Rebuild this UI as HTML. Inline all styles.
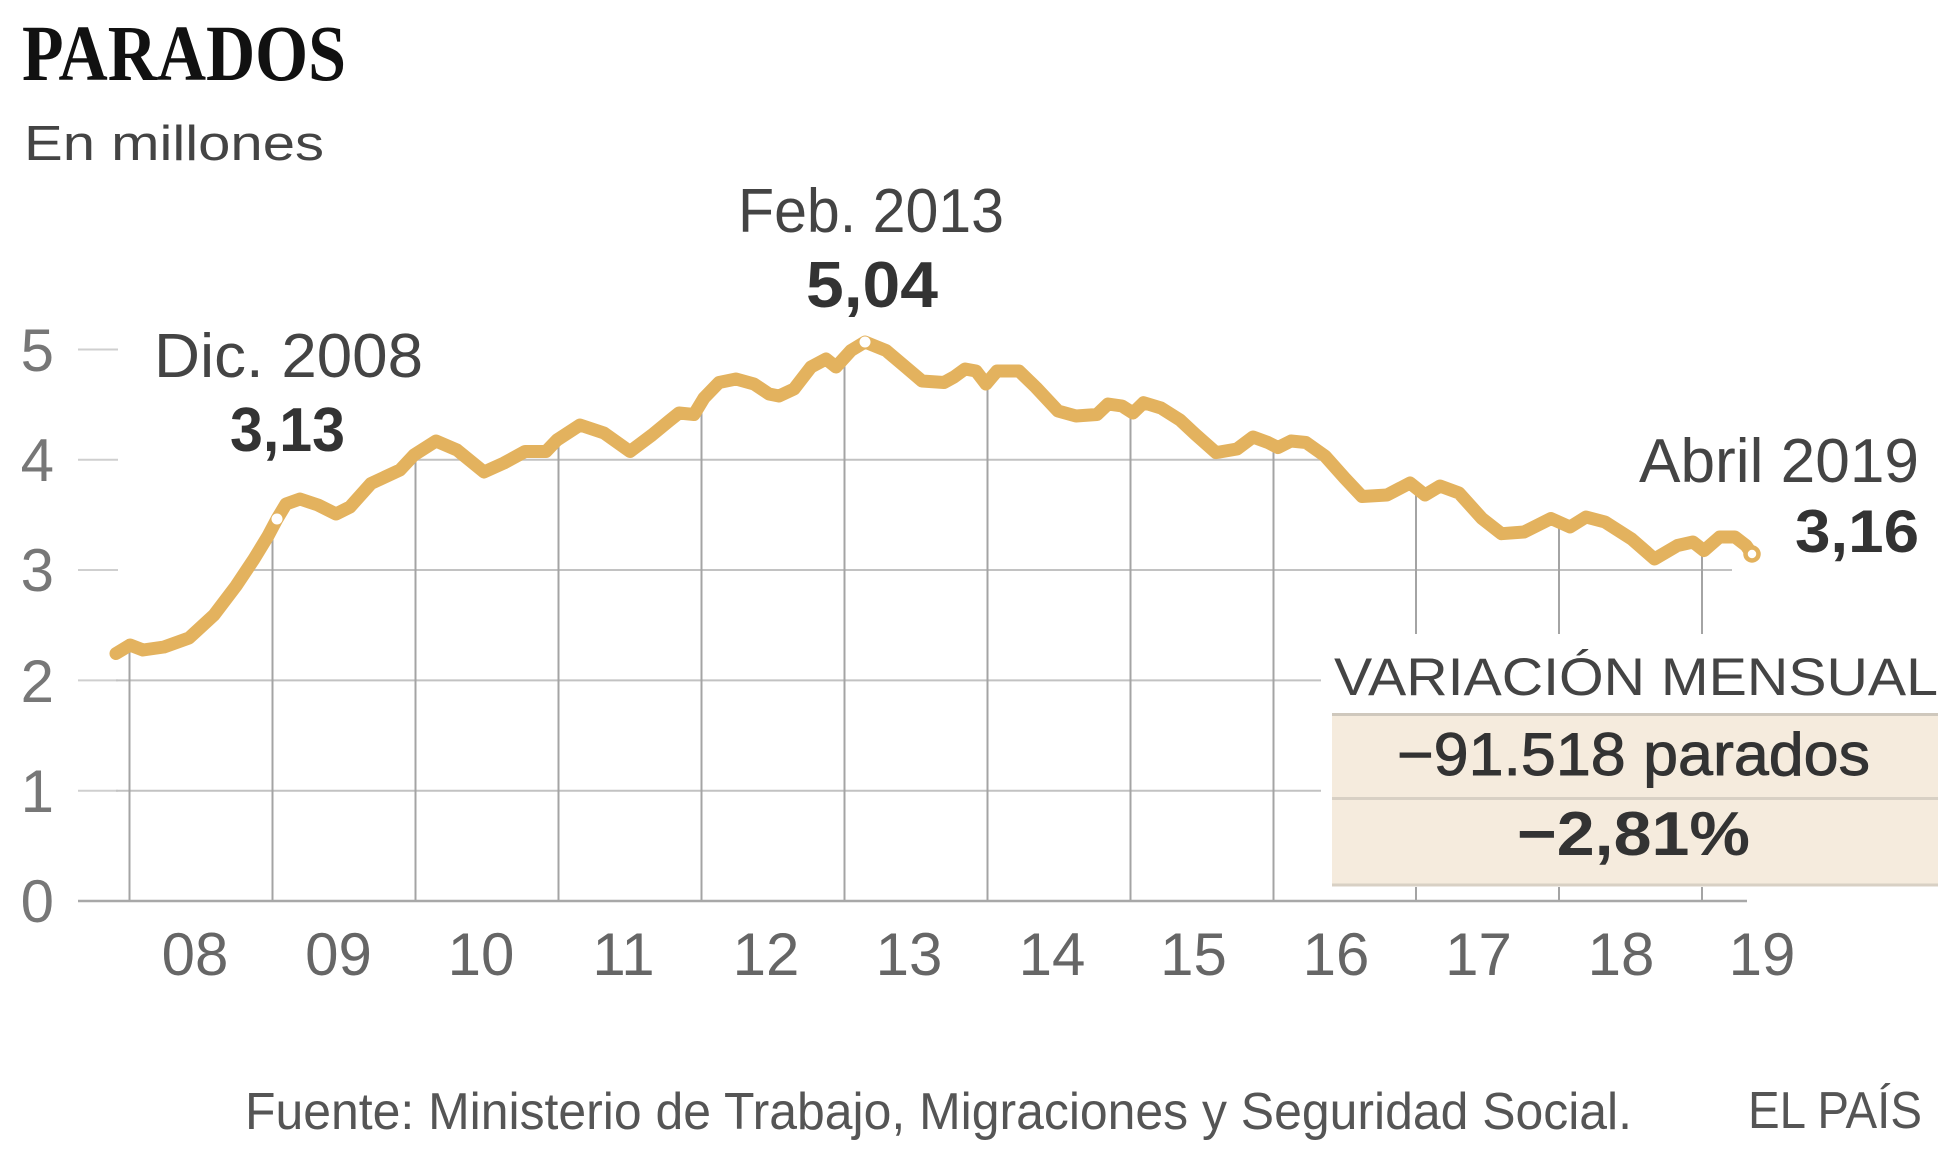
<!DOCTYPE html>
<html>
<head>
<meta charset="utf-8">
<style>
  html,body{margin:0;padding:0;background:#fff;}
  svg{display:block;}
  text{font-family:"Liberation Sans",sans-serif;}
</style>
</head>
<body>
<svg width="1960" height="1152" viewBox="0 0 1960 1152" xmlns="http://www.w3.org/2000/svg">
  <defs>
    <clipPath id="area">
      <polygon points="116,653.5 130,645 143,650 164,647 189,638 214,615 236,586 254,559 268,536 277,519 286,504 300,499 318,505 336,514 350,507 371,483.5 400,470 414,455 436,441 457,450 484,472 504,463 525,451.5 546,451.5 557,440 580,425 604,433 630,451.5 652,435 669,421 679,413 694,414.5 704,398 719,382.5 736,379 754,384 769,394 779,396 794,389 811,367 826,359 836,367 851,350.5 865,342 886,350.5 904,365.7 922,381 944,382.5 954,377 965,369 976,371 986,384 997,371 1019,371 1036,387.5 1058,411 1076,416 1097,414.5 1108,404 1122,406 1133,413 1143.6,402.7 1161,408 1180,420 1195,434 1216,452.6 1237,449 1253,437 1268,442.5 1278,447.6 1291,441 1306,442.5 1325,456 1344.6,478 1362,496.5 1387,495 1410,483 1425,495 1440,486 1459,493 1482,518.5 1501.5,533.7 1524,532 1551,518.5 1570,527 1586,517 1605,522 1631.6,539 1654.5,559 1677.5,545.5 1693,542 1704,550.6 1719.6,537 1732,537 1732,905 116,905"/>
    </clipPath>
  </defs>

  <!-- Title -->
  <text x="22" y="80" font-weight="bold" font-size="79" fill="#111" textLength="324" lengthAdjust="spacingAndGlyphs" style="font-family:'Liberation Serif',serif">PARADOS</text>
  <text x="24" y="160" font-size="49" fill="#444" textLength="300" lengthAdjust="spacingAndGlyphs">En millones</text>

  <!-- Y-axis labels -->
  <g font-size="60" fill="#777" text-anchor="end">
    <text x="54" y="371">5</text>
    <text x="54" y="481">4</text>
    <text x="54" y="591">3</text>
    <text x="54" y="702">2</text>
    <text x="54" y="812">1</text>
    <text x="54" y="922">0</text>
  </g>

  <!-- short ticks near labels -->
  <g stroke="#cfcfcf" stroke-width="2">
    <line x1="78" y1="349.5" x2="118" y2="349.5"/>
    <line x1="78" y1="459.8" x2="118" y2="459.8"/>
    <line x1="78" y1="570" x2="118" y2="570"/>
    <line x1="78" y1="680.4" x2="118" y2="680.4"/>
    <line x1="78" y1="790.7" x2="118" y2="790.7"/>
  </g>

  <!-- gridlines & year lines clipped under curve -->
  <g clip-path="url(#area)">
    <g stroke="#c2c2c2" stroke-width="2">
      <line x1="78" y1="459.8" x2="1960" y2="459.8"/>
      <line x1="78" y1="570" x2="1960" y2="570"/>
      <line x1="78" y1="680.4" x2="1960" y2="680.4"/>
      <line x1="78" y1="790.7" x2="1960" y2="790.7"/>
    </g>
    <g stroke="#a4a4a4" stroke-width="2">
      <line x1="129.5" y1="300" x2="129.5" y2="901"/>
      <line x1="272.5" y1="300" x2="272.5" y2="901"/>
      <line x1="415.5" y1="300" x2="415.5" y2="901"/>
      <line x1="558.5" y1="300" x2="558.5" y2="901"/>
      <line x1="701.5" y1="300" x2="701.5" y2="901"/>
      <line x1="844.5" y1="300" x2="844.5" y2="901"/>
      <line x1="987.5" y1="300" x2="987.5" y2="901"/>
      <line x1="1130.5" y1="300" x2="1130.5" y2="901"/>
      <line x1="1273.5" y1="300" x2="1273.5" y2="901"/>
      <line x1="1416" y1="300" x2="1416" y2="901"/>
      <line x1="1559" y1="300" x2="1559" y2="901"/>
      <line x1="1702" y1="300" x2="1702" y2="901"/>
    </g>
  </g>

  <!-- baseline -->
  <line x1="78" y1="901" x2="1747" y2="901" stroke="#a8a8a8" stroke-width="2.5"/>

  <!-- X labels -->
  <g font-size="60" fill="#666" text-anchor="middle">
    <text x="195" y="975">08</text>
    <text x="338.5" y="975">09</text>
    <text x="481" y="975">10</text>
    <text x="623.5" y="975">11</text>
    <text x="766" y="975">12</text>
    <text x="909" y="975">13</text>
    <text x="1052" y="975">14</text>
    <text x="1193.5" y="975">15</text>
    <text x="1336" y="975">16</text>
    <text x="1478.5" y="975">17</text>
    <text x="1621" y="975">18</text>
    <text x="1762" y="975">19</text>
  </g>

  <!-- annotation background (white) -->
  <rect x="1321" y="634" width="639" height="253" fill="#fff"/>
  <!-- box -->
  <rect x="1332" y="714" width="606" height="172" fill="#F5EBDD"/>
  <line x1="1332" y1="714.5" x2="1938" y2="714.5" stroke="#cfc8bd" stroke-width="3"/>
  <line x1="1332" y1="798.5" x2="1938" y2="798.5" stroke="#d8d0c4" stroke-width="3"/>
  <line x1="1332" y1="885" x2="1938" y2="885" stroke="#d8d0c4" stroke-width="3"/>

  <text x="1334" y="695" font-size="53" fill="#444" textLength="604" lengthAdjust="spacingAndGlyphs">VARIACIÓN MENSUAL</text>
  <text x="1397" y="775" font-size="60" fill="#333" stroke="#333" stroke-width="0.9" textLength="473" lengthAdjust="spacingAndGlyphs">−91.518 parados</text>
  <text x="1517" y="855" font-size="62" font-weight="bold" fill="#333" textLength="233" lengthAdjust="spacingAndGlyphs">−2,81%</text>

  <!-- data line -->
  <polyline fill="none" stroke="#E3B25E" stroke-width="13" stroke-linejoin="round" stroke-linecap="round"
    points="116,653.5 130,645 143,650 164,647 189,638 214,615 236,586 254,559 268,536 277,519 286,504 300,499 318,505 336,514 350,507 371,483.5 400,470 414,455 436,441 457,450 484,472 504,463 525,451.5 546,451.5 557,440 580,425 604,433 630,451.5 652,435 669,421 679,413 694,414.5 704,398 719,382.5 736,379 754,384 769,394 779,396 794,389 811,367 826,359 836,367 851,350.5 865,342 886,350.5 904,365.7 922,381 944,382.5 954,377 965,369 976,371 986,384 997,371 1019,371 1036,387.5 1058,411 1076,416 1097,414.5 1108,404 1122,406 1133,413 1143.6,402.7 1161,408 1180,420 1195,434 1216,452.6 1237,449 1253,437 1268,442.5 1278,447.6 1291,441 1306,442.5 1325,456 1344.6,478 1362,496.5 1387,495 1410,483 1425,495 1440,486 1459,493 1482,518.5 1501.5,533.7 1524,532 1551,518.5 1570,527 1586,517 1605,522 1631.6,539 1654.5,559 1677.5,545.5 1693,542 1704,550.6 1719.6,537 1735,537 1746,545.5 1752,554"/>

  <!-- markers -->
  <circle cx="277" cy="519" r="5.5" fill="#fff"/>
  <circle cx="865" cy="342" r="5.5" fill="#fff"/>
  <circle cx="1752" cy="554" r="6.5" fill="#fff" stroke="#E3B25E" stroke-width="4.5"/>

  <!-- annotations -->
  <text x="154" y="377" font-size="62" fill="#444" textLength="269" lengthAdjust="spacingAndGlyphs">Dic. 2008</text>
  <text x="230" y="451" font-size="62" font-weight="bold" fill="#333" textLength="115" lengthAdjust="spacingAndGlyphs">3,13</text>
  <text x="738" y="232" font-size="62" fill="#444" textLength="266" lengthAdjust="spacingAndGlyphs">Feb. 2013</text>
  <text x="806" y="307" font-size="65" font-weight="bold" fill="#333" textLength="132" lengthAdjust="spacingAndGlyphs">5,04</text>
  <text x="1639" y="482" font-size="62" fill="#444" textLength="280" lengthAdjust="spacingAndGlyphs">Abril 2019</text>
  <text x="1795" y="552" font-size="60" font-weight="bold" fill="#333" textLength="124" lengthAdjust="spacingAndGlyphs">3,16</text>

  <!-- footer -->
  <text x="245" y="1129" font-size="52" fill="#555" textLength="1387" lengthAdjust="spacingAndGlyphs">Fuente: Ministerio de Trabajo, Migraciones y Seguridad Social.</text>
  <text x="1748" y="1128" font-size="52" fill="#555" textLength="174" lengthAdjust="spacingAndGlyphs">EL PAÍS</text>
</svg>
</body>
</html>
